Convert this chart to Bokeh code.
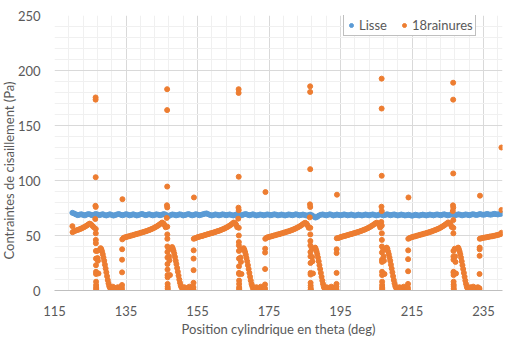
from bokeh.plotting import figure
from bokeh.models import Range1d, FixedTicker, Legend, LegendItem, Title
from bokeh.embed import file_html
from bokeh.resources import INLINE

# ---------------- data ----------------
x_ticks = [115, 135, 155, 175, 195, 215, 235]
x_minor = [119, 123, 127, 131, 139, 143, 147, 151, 159, 163, 167, 171, 179, 183, 187, 191,
           199, 203, 207, 211, 219, 223, 227, 231, 239]
y_ticks = [0, 50, 100, 150, 200, 250]
y_minor = [10, 20, 30, 40, 60, 70, 80, 90, 110, 120, 130, 140, 160, 170, 180, 190, 210, 220, 230, 240]

# Lisse: sampled every 0.5 deg from 120 to 240
lisse_start = 120.0
lisse_step = 0.5
lisse_vals = [
    70.6, 70.0, 69.2, 68.5, 68.9, 69.4, 68.7, 68.3, 69.0, 69.5,
    69.1, 68.4, 68.8, 69.6, 69.2, 68.5, 68.9, 69.4, 68.6, 68.2,
    68.8, 69.3, 68.7, 68.1, 68.6, 69.2, 69.5, 68.9, 68.4, 68.8,
    69.4, 69.0, 68.3, 68.7, 69.3, 68.8, 68.2, 68.6, 69.2, 69.6,
    69.0, 68.5, 68.9, 69.4, 68.8, 68.3, 68.7, 69.3, 68.9, 68.4,
    68.8, 69.5, 69.1, 68.2, 67.8, 68.6, 69.2, 68.8, 68.3, 68.7,
    69.3, 68.9, 68.2, 68.6, 69.1, 69.5, 68.8, 68.3, 68.7, 69.4,
    69.0, 68.4, 68.8, 69.3, 69.7, 70.1, 69.4, 68.7, 68.2, 68.6,
    69.2, 68.8, 68.3, 68.7, 69.3, 68.9, 68.4, 68.8, 69.2, 68.6,
    68.2, 68.7, 69.3, 68.9, 68.3, 68.6, 69.2, 69.5, 68.9, 68.4,
    68.8, 69.3, 68.7, 68.2, 68.6, 69.1, 68.8, 68.3, 68.7, 69.2,
    68.9, 68.4, 68.8, 69.3, 68.9, 68.3, 68.6, 69.1, 68.7, 68.2,
    68.6, 69.2, 68.8, 68.4, 68.8, 69.3, 68.9, 68.3, 68.7, 69.1,
    68.6, 68.1, 68.5, 69.0, 68.4, 67.2, 66.3, 67.0, 68.2, 68.8,
    69.2, 68.7, 68.3, 68.8, 69.3, 68.8, 68.2, 68.6, 69.1, 68.7,
    68.3, 68.7, 69.2, 68.8, 68.3, 68.6, 69.1, 68.6, 68.1, 68.5,
    69.0, 68.6, 68.2, 68.6, 69.1, 68.7, 68.3, 68.8, 69.2, 68.7,
    68.2, 68.6, 69.2, 68.8, 68.3, 68.7, 69.3, 68.9, 68.4, 68.8,
    69.2, 68.7, 68.2, 68.6, 69.1, 68.7, 68.2, 68.5, 68.9, 68.4,
    68.0, 68.4, 68.9, 68.5, 68.1, 68.6, 69.0, 68.6, 68.2, 68.7,
    69.1, 68.7, 68.3, 68.8, 69.2, 68.8, 68.4, 68.9, 69.3, 68.8,
    68.3, 68.7, 69.2, 68.8, 68.4, 68.8, 69.3, 68.8, 68.3, 68.7,
    69.2, 68.8, 68.4, 68.9, 69.4, 69.0, 68.6, 69.0, 69.5, 69.1,
    68.8, 69.2, 69.6, 69.2, 68.9, 69.3, 69.7, 69.4, 69.1, 69.5,
    69.8,
]
lisse_theta = [lisse_start + lisse_step * i for i in range(len(lisse_vals))]

# 18rainures: start of the record (before the first groove)
head_theta = [120.0, 120.05, 120.4, 120.8, 121.2, 121.6, 122.0, 122.4, 122.8, 123.2,
              123.6, 124.0, 124.4, 124.8, 125.2, 125.6, 126.0]
head_vals = [58.5, 53.0, 53.8, 54.3, 54.8, 55.2, 55.7, 56.2, 56.8, 57.5,
             58.2, 59.0, 59.9, 60.8, 60.2, 58.8, 57.5]

# groove positions (one groove every 20 deg) and the theta offsets of the mesh points inside one groove period
groove_theta = [126.5, 146.5, 166.5, 186.5, 206.5, 226.5]
groove_offsets = [
    -0.1, -0.05, 0.0, 0.0, 0.02, 0.03, 0.04, 0.05, 0.06, 0.07,
    0.08, 0.09, 0.1, 0.11, 0.12, 0.13, 0.14, 0.15, 0.16, 0.18,
    0.45, 0.55, 0.65, 0.8,
    1.2, 1.4, 1.6, 1.8, 2.0, 2.2, 2.4, 2.6, 2.8, 3.0, 3.2, 3.4, 3.6, 3.8, 4.0, 4.3,
    4.6, 4.8, 5.0, 5.3, 5.6, 5.9, 6.2, 6.5, 6.7, 6.9, 7.1, 7.2,
    7.35, 7.35, 7.38, 7.4, 7.4, 7.42, 7.45, 7.5,
    7.8, 8.2, 8.6, 9.0, 9.4, 9.8, 10.2, 10.6, 11.0, 11.4, 11.8, 12.2, 12.6, 13.0,
    13.4, 13.8, 14.2, 14.6, 15.0, 15.4, 15.8, 16.2, 16.6, 17.0, 17.4, 17.8, 18.2, 18.6,
    19.0, 19.3, 19.6,
]

rain_g1 = [65, 77, 175.5, 173.5, 103, 76, 56, 52, 46, 43, 36, 29, 23, 17, 15, 8, 5, 3, 1.5, 0.5,
           36, 29.5, 27, 15.5,
           37, 38.5, 37.5, 35.5, 33, 30, 27, 23.5, 20, 16.5, 13, 9.5, 6.5, 4, 2.5, 1.5,
           2, 3.5, 1, 2.5, 0.5, 1.5, 3, 1, 2, 0.5, 3.5, 1,
           0.5, 2.5, 5, 16.5, 28, 37.5, 46.5, 83,
           47.8, 48.3, 48.7, 49.0, 49.4, 49.8, 50.1, 50.5, 50.9, 51.3, 51.6, 52.0, 52.4, 52.8,
           53.2, 53.6, 54.0, 54.5, 55.0, 55.5, 56.1, 56.7, 57.4, 58.1, 58.9, 59.8, 60.8, 61.8,
           61.0, 59.5, 57.5]
rain_g2 = [66, 77.5, 183, 164, 94.5, 75.5, 58, 51, 47, 40, 35, 30, 24, 19, 14, 12, 6, 3.5, 2, 0.5,
           37.5, 31, 27.5, 14,
           38, 39.5, 38, 36, 33.5, 30.5, 27, 24, 20.5, 17, 13.5, 10, 7, 4.5, 3, 1,
           1.5, 3, 0.5, 2, 1, 2.5, 3.5, 0.5, 1.5, 2.5, 1, 3,
           1, 3, 7, 18.5, 29, 36.5, 47, 84.6,
           47.5, 48.0, 48.5, 48.9, 49.3, 49.6, 50.0, 50.4, 50.8, 51.2, 51.6, 52.0, 52.3, 52.7,
           53.1, 53.6, 54.0, 54.4, 54.9, 55.5, 56.0, 56.6, 57.3, 58.0, 58.8, 59.7, 60.7, 61.8,
           61.2, 59.8, 57.6]
rain_g3 = [65.3, 75.3, 183, 179.6, 103.4, 73, 57, 50, 44, 41, 36, 29, 22, 16, 15, 9, 6, 3, 1.5, 0.5,
           37, 30, 26, 15,
           37.5, 38.5, 37, 35, 32.5, 29.5, 26.5, 23, 19.5, 16, 12.5, 9, 6, 4, 2, 1.5,
           2.5, 1, 3, 0.5, 2, 1.5, 3.5, 1, 2.5, 0.5, 2, 3,
           0.5, 2, 5.5, 19.5, 34.5, 38, 47, 89.5,
           48.0, 48.4, 48.8, 49.1, 49.5, 49.9, 50.2, 50.6, 51.0, 51.3, 51.7, 52.1, 52.5, 52.9,
           53.3, 53.7, 54.1, 54.6, 55.1, 55.6, 56.2, 56.8, 57.5, 58.2, 59.0, 59.9, 60.9, 61.6,
           60.8, 59.2, 57.0]
rain_g4 = [66.5, 78.3, 185.6, 180.5, 110.3, 75.9, 57, 51, 45, 41, 35, 31, 25, 16, 14.5, 7, 4.5, 2.5, 1, 0.5,
           38, 30.5, 26.5, 15.5,
           38, 39, 37.5, 35.5, 33, 30, 26.5, 23, 19.5, 16, 12.5, 9, 6, 3.5, 2, 1,
           3, 1.5, 0.5, 2.5, 1, 3.5, 2, 0.5, 1.5, 3, 1, 2,
           1, 3.5, 6, 16, 34, 37.5, 47.5, 87.1,
           47.6, 48.1, 48.6, 49.0, 49.4, 49.7, 50.1, 50.5, 50.9, 51.2, 51.6, 52.0, 52.4, 52.8,
           53.2, 53.6, 54.1, 54.6, 55.1, 55.6, 56.2, 56.8, 57.5, 58.3, 59.1, 60.0, 61.0, 61.7,
           61.1, 59.6, 57.3]
rain_g5 = [62.3, 76.2, 192.6, 165.4, 104.3, 72.2, 59, 52, 46, 40, 34.5, 28, 26, 17, 14, 8, 5, 3, 1.5, 0.5,
           37, 31, 27, 15,
           37.5, 39, 38, 35.5, 33, 30, 27, 23.5, 20, 16.5, 13, 9.5, 6.5, 4, 2.5, 1,
           2, 0.5, 3, 1.5, 2.5, 1, 3.5, 0.5, 2, 1.5, 3, 0.5,
           0.5, 2.5, 6, 17.5, 28.5, 36.5, 47, 84.6,
           47.7, 48.2, 48.6, 49.0, 49.3, 49.7, 50.1, 50.5, 50.8, 51.2, 51.6, 51.9, 52.3, 52.7,
           53.1, 53.5, 54.0, 54.5, 55.0, 55.5, 56.1, 56.7, 57.4, 58.2, 59.0, 59.9, 60.9, 61.9,
           61.3, 59.9, 57.8]
rain_g6 = [72.2, 77.4, 188.9, 173.5, 106.4, 75.3, 64, 57, 52, 36, 31, 28, 17, 16, 14, 8, 5.5, 4, 2, 0.5,
           38, 31, 26, 15.5,
           38, 39, 37.5, 35.5, 33, 30, 26.5, 23, 19.5, 16, 12.5, 9, 6, 3.5, 2, 1,
           1.5, 3, 0.5, 2, 3.5, 1, 2.5, 0.5, 1.5, 3, 0.5, 2,
           0.5, 2, 15, 31.5, 37.5, 39, 47, 86.2,
           47.4, 47.7, 48.0, 48.2, 48.4, 48.7, 49.0, 49.2, 49.4, 49.7, 50.0, 50.3, 50.6, 51.0,
           51.5]
groove_vals = [rain_g1, rain_g2, rain_g3, rain_g4, rain_g5, rain_g6]

# end of the record
tail_theta = [240.0, 240.0, 240.0]
tail_vals = [130, 73.2, 52.5]

rain_theta = list(head_theta)
rain_vals = list(head_vals)
for g0, vals in zip(groove_theta, groove_vals):
    rain_theta += [g0 + d for d in groove_offsets[:len(vals)]]
    rain_vals += vals
rain_theta += tail_theta
rain_vals += tail_vals

x_title = "Position cylindrique en theta (deg)"
y_title = "Contraintes de cisaillement (Pa)"

# ---------------- figure ----------------
FONT = "Lato"
TXT = "#595959"

p = figure(width=521, height=339, output_backend="svg", toolbar_location=None,
           x_range=Range1d(115, 240.3), y_range=Range1d(0, 250),
           min_border_left=54, min_border_right=19, min_border_top=15, min_border_bottom=49)
p.outline_line_color = None
p.background_fill_color = "white"
p.border_fill_color = "white"

xt = FixedTicker(ticks=x_ticks, minor_ticks=x_minor)
yt = FixedTicker(ticks=y_ticks, minor_ticks=y_minor)
p.xaxis.ticker = xt
p.yaxis.ticker = yt
p.xgrid.ticker = xt
p.ygrid.ticker = yt
for g in (p.xgrid, p.ygrid):
    g.grid_line_color = "#D9D9D9"
    g.grid_line_width = 1
    g.minor_grid_line_color = "#F0F0F0"
    g.minor_grid_line_width = 1

for ax in (p.xaxis, p.yaxis):
    ax.major_tick_line_color = None
    ax.minor_tick_line_color = None
    ax.major_tick_out = 0
    ax.major_tick_in = 0
    ax.major_label_text_font = FONT
    ax.major_label_text_font_size = "13px"
    ax.major_label_text_color = TXT
    ax.axis_label_text_font = FONT
    ax.axis_label_text_font_size = "13px"
    ax.axis_label_text_font_style = "normal"
    ax.axis_label_text_color = TXT

p.xaxis.axis_line_color = "#BFBFBF"
p.yaxis.axis_line_color = None
p.xaxis.major_label_standoff = 11
p.yaxis.major_label_standoff = 10
p.xaxis.axis_label_standoff = 2
p.xaxis.axis_label = x_title

# y title: a side title in the left border, started lower so that it sits centred on the whole chart
ytitle = Title(text=y_title, align="left", offset=31, standoff=-5,
               text_font=FONT, text_font_size="13px", text_font_style="normal",
               text_color=TXT)
p.add_layout(ytitle, "left")

r_lisse = p.scatter(lisse_theta, lisse_vals, size=5, marker="circle",
                    fill_color="#5B9BD5", line_color="#5B9BD5")
r_rain = p.scatter(rain_theta, rain_vals, size=5, marker="circle",
                   fill_color="#ED7D31", line_color="#ED7D31")

legend = Legend(items=[LegendItem(label="Lisse", renderers=[r_lisse]),
                       LegendItem(label="18rainures", renderers=[r_rain])],
                location=(289, 254), orientation="horizontal")
legend.border_line_color = "#7F7F7F"
legend.border_line_width = 1
legend.background_fill_color = "white"
legend.background_fill_alpha = 1
legend.label_text_font = FONT
legend.label_text_font_size = "13px"
legend.label_text_color = TXT
legend.padding = 2
legend.spacing = 12
legend.margin = 0
legend.glyph_width = 10
legend.glyph_height = 10
legend.label_standoff = 3
p.add_layout(legend, "center")

open("out.html", "w").write(file_html(p, INLINE))
